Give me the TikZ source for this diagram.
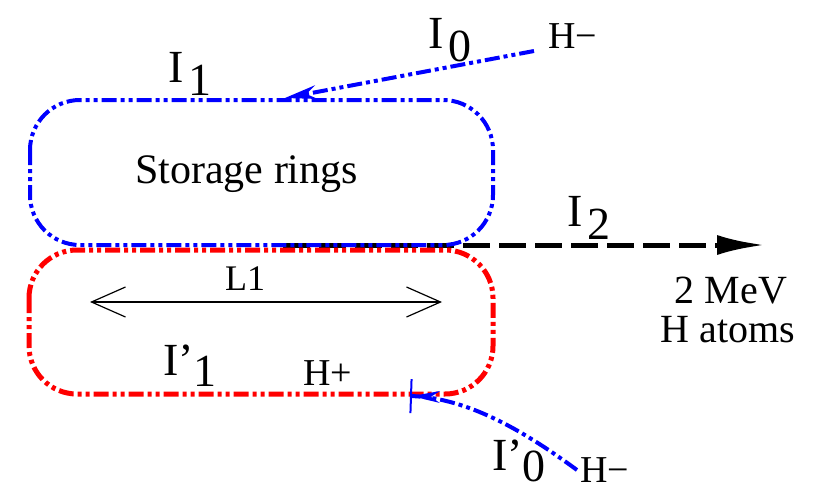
\documentclass[tikz,border=0pt]{standalone}
\usepackage{fontspec}
\setmainfont{Liberation Serif}
\usetikzlibrary{arrows.meta}

\newcommand{\Icur}[2]{I#1\hspace{5pt}\raisebox{-13pt}{#2}}

\begin{document}
\begin{tikzpicture}[x=1pt, y=-1pt,
  beam/.style={blue, line width=4pt, dash pattern=on 15pt off 4pt on 4pt off 4pt on 4pt off 4pt},
  ring/.style={red, line width=5pt, dash pattern=on 15pt off 4pt on 4pt off 4pt on 4pt off 4pt},
  lab/.style={inner sep=0pt, anchor=base west, text depth=0pt, font=\fontsize{38}{38}\selectfont},
  cur/.style={inner sep=0pt, anchor=base west, text depth=0pt, font=\fontsize{46}{46}\selectfont}]
  \useasboundingbox (0,0) rectangle (814,491);
  % Neutral H beam out of the rings
  \coordinate (i2s) at (283,245);
  \coordinate (i2e) at (765,245);
  \draw[line width=5pt, dash pattern=on 27pt off 9pt, -{Latex[length=48pt,width=20pt]}] (i2s) -- (i2e);
  % Rings
  \draw[ring, rounded corners=48] (29,250) rectangle (493,394);
  \draw[beam, rounded corners=50] (30,100) rectangle (493,245);
  % Injection H- beams
  \node[lab] (hmtop) at (548,48) {H−};
  \node[lab] (hmbot) at (580,482) {H−};
  \coordinate (i0e) at (285,98);
  \coordinate (i0pe) at (410,396);
  \draw[beam, -{Stealth[length=32pt,width=14pt,line width=0pt]}] ([xshift=-14pt,yshift=-3pt]hmtop.base west) -- (i0e);
  \draw[beam, -{Stealth[length=28pt,width=12pt,line width=0pt]Bar[width=34pt,line width=2pt]}]
    ([xshift=-3pt,yshift=12pt]hmbot.base west) .. controls (528,434) and (470,398) .. (i0pe);
  % Straight section
  \coordinate (l1a) at (90,302);
  \coordinate (l1b) at (442,302);
  \draw[line width=1.5pt, {Straight Barb[length=34pt,width=30pt,line width=1.2pt]}-{Straight Barb[length=34pt,width=30pt,line width=1.2pt]}] (l1a) -- (l1b);
  \node[lab, font=\fontsize{36}{36}\selectfont] (l1) at (225,290) {L1};
  % Labels
  \node[lab, font=\fontsize{42}{42}\selectfont] (store) at (135,183) {Storage rings};
  \node[lab] (hp) at (303,385) {H+};
  \node[cur] (i1) at (168,82) {\Icur{}{1}};
  \node[cur] (i0) at (428,48) {\Icur{}{0}};
  \node[cur] (i2) at (567,226) {\Icur{}{2}};
  \node[cur] (i1p) at (163,375) {I’\raisebox{-11pt}{1}};
  \node[cur] (i0p) at (492,470) {I’\raisebox{-11pt}{0}};
  \node[lab, anchor=base, font=\fontsize{40}{40}\selectfont] (mev) at (731,303) {2 MeV};
  \node[lab, anchor=base, font=\fontsize{40}{40}\selectfont] (hat) at (728,342) {H atoms};
\end{tikzpicture}
\end{document}
